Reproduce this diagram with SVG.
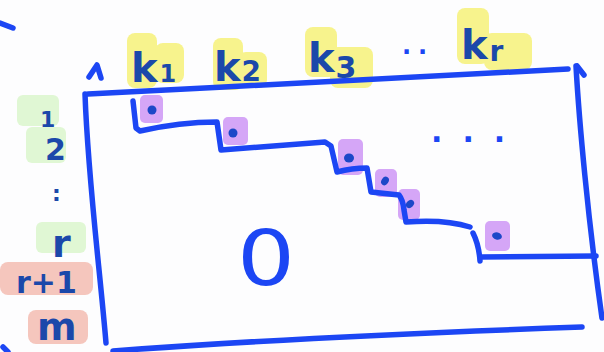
<svg xmlns="http://www.w3.org/2000/svg" width="604" height="352" viewBox="0 0 604 352">
  <style>
    .ink { fill: none; stroke: #1c46f4; stroke-width: 5.5; stroke-linecap: round; stroke-linejoin: round; }
    .lbl { font-family: "DejaVu Sans", "Noto Sans", sans-serif; font-weight: bold; fill: #1b48aa; }
    .yel { fill: #f7f38d; }
    .grn { fill: #e0f7d4; }
    .pnk { fill: #f5c6bd; }
    .pur { fill: #d5a6f7; }
    .dot { fill: #1c48c8; }
  </style>

  <!-- white page -->
  <rect width="604" height="352" fill="#fdfdfe"/>

  <!-- column labels: pivot columns k1 .. kr -->
  <g id="col-k1">
    <rect class="yel" x="127" y="33" width="30" height="55" rx="8"/>
    <rect class="yel" x="155" y="43" width="29" height="40" rx="8"/>
    <text class="lbl" x="131" y="82" font-size="40">k<tspan font-size="24" dx="2">1</tspan></text>
  </g>
  <g id="col-k2">
    <rect class="yel" x="213" y="38" width="30" height="52" rx="8"/>
    <rect class="yel" x="238" y="52" width="29" height="36" rx="8"/>
    <text class="lbl" x="214" y="81" font-size="40">k<tspan font-size="28" dx="1">2</tspan></text>
  </g>
  <g id="col-k3">
    <rect class="yel" x="305" y="27" width="32" height="50" rx="8"/>
    <rect class="yel" x="330" y="47" width="43" height="41" rx="8"/>
    <text class="lbl" x="308" y="72" font-size="40">k<tspan font-size="30" dx="1" dy="6">3</tspan></text>
  </g>
  <g id="col-dots">
    <text class="lbl" x="402" y="54" font-size="24" letter-spacing="7" style="fill:#1c46f4">..</text>
  </g>
  <g id="col-kr">
    <rect class="yel" x="457" y="8" width="32" height="56" rx="8"/>
    <rect class="yel" x="484" y="33" width="48" height="37" rx="8"/>
    <text class="lbl" x="461" y="59" font-size="40">k<tspan font-size="28" dx="2" dy="2">r</tspan></text>
  </g>

  <!-- row labels -->
  <g id="row-1">
    <rect class="grn" x="17" y="95" width="42" height="31" rx="6"/>
    <text class="lbl" x="40" y="127" font-size="22">1</text>
  </g>
  <g id="row-2">
    <rect class="grn" x="26" y="127" width="40" height="36" rx="6"/>
    <text class="lbl" x="45" y="160" font-size="30">2</text>
  </g>
  <g id="row-vdots">
    <text class="lbl" x="52" y="201" font-size="22">:</text>
  </g>
  <g id="row-r">
    <rect class="grn" x="36" y="222" width="50" height="31" rx="6"/>
    <text class="lbl" x="52" y="257" font-size="38">r</text>
  </g>
  <g id="row-r1">
    <rect class="pnk" x="0" y="262" width="93" height="33" rx="8"/>
    <text class="lbl" x="16" y="293" font-size="30">r+1</text>
  </g>
  <g id="row-m">
    <rect class="pnk" x="28" y="310" width="60" height="34" rx="8"/>
    <text class="lbl" x="37" y="340" font-size="38">m</text>
  </g>

  <!-- pivot entries -->
  <g id="pivots">
    <rect class="pur" x="140" y="95" width="23" height="28" rx="5"/>
    <rect class="pur" x="223" y="117" width="25" height="28" rx="5"/>
    <rect class="pur" x="338" y="139" width="25" height="36" rx="5"/>
    <rect class="pur" x="375" y="169" width="22" height="28" rx="5"/>
    <rect class="pur" x="398" y="189" width="22" height="31" rx="5"/>
    <rect class="pur" x="485" y="221" width="25" height="30" rx="5"/>
    <ellipse class="dot" cx="152" cy="110" rx="4.5" ry="4.5"/>
    <ellipse class="dot" cx="233" cy="133" rx="4.5" ry="4.5"/>
    <ellipse class="dot" cx="349" cy="158" rx="5" ry="4.5"/>
    <ellipse class="dot" cx="385" cy="181" rx="3.5" ry="4.5" transform="rotate(35 385 181)"/>
    <ellipse class="dot" cx="410" cy="204" rx="3.5" ry="4.5" transform="rotate(45 410 204)"/>
    <ellipse class="dot" cx="497" cy="236" rx="5" ry="3.5" transform="rotate(15 497 236)"/>
  </g>

  <!-- matrix frame and staircase -->
  <g id="matrix">
    <path class="ink" d="M0,23 L13,28"/>
    <path class="ink" d="M3,347 L8,352"/>
    <path class="ink" d="M89,77 L97,65 L101,78"/>
    <path class="ink" d="M88,94 C250,86 420,76 568,69"/>
    <path class="ink" d="M577,66 L584,75"/>
    <path class="ink" d="M576,66 C579,120 588,220 602,318"/>
    <path class="ink" d="M85,94 C88,180 100,270 106,343"/>
    <path class="ink" d="M113,351 C220,343 380,334 582,327"/>
    <path class="ink" d="M133,101 L136,128 L140,131 Q180,122 217,122 L221,150 Q270,146 325,142 L331,146 L337,172 Q352,168 367,168 L371,192 L399,195 Q403,200 404,210 L406,222 Q445,219 470,227"/>
    <path class="ink" d="M473,233 Q479,245 480,261 M481,257 L596,256"/>
    <text class="lbl" x="431" y="142" font-size="30" letter-spacing="20" style="fill:#1c46f4">...</text>
  </g>

  <!-- zero block below the staircase -->
  <g id="zero">
    <text transform="translate(266,285) scale(1.2,1)" font-family="DejaVu Sans, sans-serif" font-size="76" text-anchor="middle" fill="#1c46f4">0</text>
  </g>
</svg>
